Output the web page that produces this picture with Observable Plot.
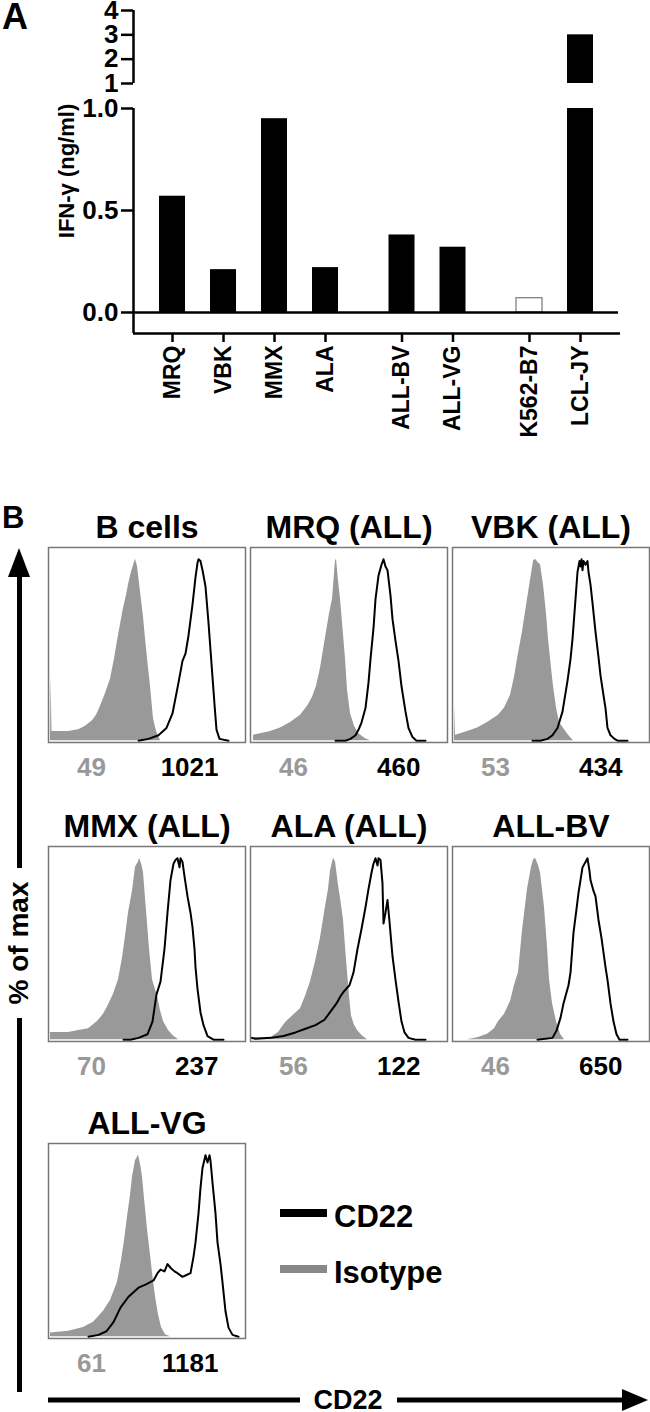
<!DOCTYPE html>
<html><head><meta charset="utf-8">
<script src="https://cdn.jsdelivr.net/npm/d3@7"></script>
<script src="https://cdn.jsdelivr.net/npm/@observablehq/plot@0.6"></script>
<style>
body{margin:0;background:#fff;}
#fig{position:relative;width:650px;height:1412px;overflow:hidden;font-family:"Liberation Sans",Arial,sans-serif;}
#fig > svg{position:absolute;}
</style></head><body><div id="fig"></div>
<script>
// ---------- Panel A data ----------
const cellLines = ["MRQ","VBK","MMX","ALA","ALL-BV","ALL-VG","K562-B7","LCL-JY"];
const cellGroup = [0,0,0,0,1,1,2,2];
const ifnGamma  = [0.57,0.21,0.95,0.22,0.38,0.32,0.07,3.0];
const isNegCtrl = [false,false,false,false,false,false,true,false];
const lowerTicks = [0,0.5,1];
const upperTicks = [1,2,3,4];

// ---------- Panel B data ----------
const panelTitles = ["B cells","MRQ (ALL)","VBK (ALL)","MMX (ALL)","ALA (ALL)","ALL-BV","ALL-VG"];
const isoMFI  = [49,46,53,70,56,46,61];
const cd22MFI = [1021,460,434,237,122,650,1181];
// histograms: [channel, % of max]
const isoBcells = [[0,0],[2,0],[2.5,36],[3.5,5],[20,5],[30,6],[37,8],[44,11],[48,14],[52,19],[57,26],[62,34],[66,45],[69,55],[72,64],[75,73],[78,80],[80,86],[83,93],[87,100],[89,96],[92,82],[95,68],[97,56],[100,40],[102,30],[105,12],[108,5],[112,0],[197,0]];
const cdBcells  = [[90,0],[100,1],[110,3],[118,7],[124,15],[130,32],[134,44],[137,48],[140,58],[144,75],[147,90],[149,98],[150,100],[152,99],[154,94],[157,85],[160,65],[162,50],[164,35],[166,20],[168,6],[171,1],[180,0]];
const isoMRQ = [[0,0],[3,0],[3,3],[20,5],[30,7],[40,10],[50,14],[57,19],[62,24],[66,30],[70,40],[73,50],[76,60],[79,70],[82,78],[84,92],[85,99],[86,100],[88,88],[90,78],[92,65],[95,45],[97,28],[100,15],[104,8],[108,4],[115,1],[120,0],[197,0]];
const cdMRQ  = [[85,0],[95,0],[100,1],[105,3],[108,6],[111,10],[115,18],[118,32],[120,45],[123,62],[125,78],[128,91],[130,95],[131,97],[133,100],[135,96],[137,94],[140,80],[142,67],[145,55],[148,44],[151,30],[155,16],[158,7],[162,2],[166,0],[175,0]];
const isoVBK = [[0,0],[2,0],[2.5,19],[3,3],[15,5],[25,7],[35,10],[46,14],[52,18],[58,25],[62,35],[65,45],[70,60],[75,78],[79,92],[81,99],[83,100],[86,98],[88,97],[91,86],[94,70],[96,56],[99,40],[101,30],[104,18],[107,10],[112,6],[116,3],[121,0],[197,0]];
const cdVBK  = [[80,0],[88,0],[95,1],[100,3],[105,7],[110,16],[115,33],[118,45],[120,56],[123,78],[125,93],[127,99],[128,96],[129,100],[130,94],[131,99],[133,97],[135,99],[136,93],[138,86],[140,76],[143,60],[146,46],[148,36],[151,25],[153,18],[155,7],[158,3],[162,1],[165,0],[175,0]];
const isoMMX = [[0,0],[2,0],[2,4],[10,4],[20,4],[30,5],[40,6],[49,10],[55,14],[59,18],[65,25],[70,33],[74,45],[77,57],[80,70],[84,82],[87,95],[90,98],[91,100],[93,97],[95,92],[97,78],[99,64],[101,50],[104,33],[109,24],[112,16],[115,10],[120,5],[125,2],[130,0],[197,0]];
const cdMMX  = [[75,0],[82,0],[90,1],[99,3],[104,10],[108,25],[112,32],[116,50],[119,70],[122,88],[125,97],[127,99],[129,100],[131,95],[132,100],[134,98],[136,90],[139,79],[142,70],[144,62],[146,50],[147,40],[149,28],[152,15],[155,8],[159,2],[165,0],[175,0]];
const isoALA = [[0,0],[2,0],[2,1],[20,1],[28,4],[33,8],[36,10],[42,13],[50,17],[55,24],[60,32],[65,43],[70,56],[74,70],[78,83],[80,93],[83,100],[85,98],[88,85],[90,78],[93,66],[95,51],[97,37],[99,24],[101,13],[104,8],[107,5],[112,2],[117,0],[197,0]];
const cdALA  = [[1,1],[5,0.5],[20,1],[33,2],[45,4],[55,6],[65,8],[74,11],[82,17],[86,20],[90,24],[94,27],[99,30],[103,37],[107,50],[111,61],[115,73],[118,83],[121,92],[123,97],[125,100],[127,96],[128,100],[130,99],[132,86],[133,64],[135,70],[137,77],[139,65],[142,46],[145,33],[148,21],[151,10],[154,4],[158,1],[165,0],[175,0]];
const isoBV  = [[0,0],[15,0],[25,1],[35,3],[42,6],[46,10],[52,14],[58,21],[62,30],[66,37],[70,60],[75,83],[79,95],[81,99],[83,100],[86,96],[88,92],[92,73],[95,51],[97,33],[100,20],[104,10],[108,3],[112,0],[197,0]];
const cdBV   = [[85,0],[100,1],[104,5],[108,12],[111,20],[114,26],[116,30],[118,37],[121,59],[124,72],[126,81],[128,88],[130,95],[133,98],[135,100],[137,93],[138,88],[141,82],[143,79],[146,66],[149,56],[151,48],[153,40],[155,33],[158,20],[161,10],[164,3],[167,0],[175,0]];
const isoVG  = [[0,0],[2,0],[2,2],[20,3],[35,5],[45,8],[55,14],[62,20],[69,30],[73,42],[76,53],[79,66],[82,78],[84,88],[87,97],[90,100],[92,95],[94,88],[96,76],[99,59],[102,45],[104,35],[107,22],[110,12],[113,5],[117,1],[122,0],[197,0]];
const cdVG   = [[40,0],[50,1],[58,3],[65,8],[72,16],[80,22],[90,27],[98,29],[105,31],[109,35],[112,37],[116,36],[119,40],[122,38],[126,36],[129,35],[134,33],[138,34],[142,35],[145,44],[147,52],[150,68],[152,82],[154,93],[157,100],[159,96],[161,100],[162,97],[164,85],[167,68],[169,52],[172,40],[174,30],[177,14],[180,5],[184,1],[190,0]];
const isoCurves = [isoBcells,isoMRQ,isoVBK,isoMMX,isoALA,isoBV,isoVG];
const cdCurves  = [cdBcells,cdMRQ,cdVBK,cdMMX,cdALA,cdBV,cdVG];

// ---------- layout ----------
const FONT = "Liberation Sans, Arial, sans-serif";
const fig = document.getElementById("fig");
function place(el, left, top){ el.style.position="absolute"; el.style.left=left+"px"; el.style.top=top+"px"; fig.appendChild(el); }

const bars = cellLines.map((name,i)=>({name, pos: i + 0.5*cellGroup[i], v: ifnGamma[i], ctrl: isNegCtrl[i]}));
const xDom = [-0.765, 8.745];
const plotL = 133, plotR = 618;
const pxPerX = (plotR - plotL) / (xDom[1] - xDom[0]);
const halfW = 13 / pxPerX;           // half bar width
const yTickLen = 12 / pxPerX;        // y tick length in x units
const xMin = xDom[0], xMax = xDom[1];

// upper (broken) segment 1-4
const upperH = 92, upperTop = 10, upperBot = 9;
const upper = Plot.plot({
  width: 650, height: upperH, marginLeft: plotL, marginRight: 650 - plotR, marginTop: upperTop, marginBottom: upperBot,
  style: {fontFamily: FONT, background: "transparent", overflow: "visible"},
  x: {domain: xDom, axis: null},
  y: {domain: [1,4], axis: null},
  marks: [
    Plot.rectY(bars.filter(d=>d.v>1), {x1: d=>d.pos-halfW, x2: d=>d.pos+halfW, y1: 1, y2: d=>d.v, fill: "black"}),
    Plot.ruleX([xMin], {y1: 1, y2: 4, strokeWidth: 2.5}),
    Plot.ruleY(upperTicks, {x1: xMin - yTickLen, x2: xMin, strokeWidth: 2.5}),
    Plot.text(upperTicks, {x: xMin, y: d=>d, text: d=>String(d), textAnchor: "end", dx: -15, fontSize: 26, fontWeight: "bold", fill: "#000"})
  ]
});
place(upper, 0, 0);

// lower segment 0-1 with x axis
const yAxisDrop = -0.103;
const lowerH = 360, lowerTop = 16, lowerBot = 119;
const pxPerY = (lowerH - lowerTop - lowerBot) / (1 - yAxisDrop);
const xTickLen = 9 / pxPerY;
const lower = Plot.plot({
  width: 650, height: lowerH, marginLeft: plotL, marginRight: 650 - plotR, marginTop: lowerTop, marginBottom: lowerBot,
  style: {fontFamily: FONT, background: "transparent", overflow: "visible"},
  x: {domain: xDom, axis: null},
  y: {domain: [yAxisDrop, 1], axis: null},
  marks: [
    Plot.rectY(bars.filter(d=>!d.ctrl), {x1: d=>d.pos-halfW, x2: d=>d.pos+halfW, y1: 0, y2: d=>Math.min(d.v,1), fill: "black"}),
    Plot.rectY(bars.filter(d=>d.ctrl), {x1: d=>d.pos-halfW, x2: d=>d.pos+halfW, y1: 0, y2: d=>d.v, fill: "white", stroke: "#777", strokeWidth: 1.2}),
    Plot.ruleY([0], {x1: xMin, x2: xMax, strokeWidth: 2.5}),
    Plot.ruleY([yAxisDrop], {x1: xMin, x2: xMax + 0.04, strokeWidth: 2.5}),
    Plot.ruleX([xMin], {y1: yAxisDrop, y2: 1, strokeWidth: 2.5}),
    Plot.ruleY(lowerTicks, {x1: xMin - yTickLen, x2: xMin, strokeWidth: 2.5}),
    Plot.text(lowerTicks, {x: xMin, y: d=>d, text: d3.format(".1f"), textAnchor: "end", dx: -15, fontSize: 26, fontWeight: "bold", fill: "#000"}),
    Plot.ruleX(bars, {x: "pos", y1: yAxisDrop, y2: yAxisDrop - xTickLen, strokeWidth: 2.5}),
    Plot.text(bars, {x: "pos", y: yAxisDrop, text: "name", rotate: -90, textAnchor: "end", dy: 12, fontSize: 23, fontWeight: "bold", fill: "#000"})
  ]
});
place(lower, 0, upperH);

// Panel B histograms
const colX = [48, 250, 452];
const rowTop = [547, 846, 1143];
const boxW = 197, boxH = 195, mT = 40, mB = 40;
panelTitles.forEach((title, i) => {
  const c = i % 3, r = Math.floor(i / 3);
  const p = Plot.plot({
    width: boxW, height: boxH + mT + mB, marginLeft: 0, marginRight: 0, marginTop: mT, marginBottom: mB,
    style: {fontFamily: FONT, background: "transparent", overflow: "visible"},
    x: {domain: [0, 197], axis: null},
    y: {domain: [-1, 106.5], axis: null},
    marks: [
      Plot.areaY(isoCurves[i], {x: d=>d[0], y: d=>d[1], fill: "#999"}),
      Plot.lineY(cdCurves[i], {x: d=>d[0], y: d=>d[1], stroke: "#000", strokeWidth: 2}),
      Plot.frame({stroke: "#777", strokeWidth: 1.5}),
      Plot.text([title], {text: d=>d, frameAnchor: "top", lineAnchor: "bottom", dy: -10, fontSize: 32, fontWeight: "bold", fill: "#000"}),
      Plot.text([isoMFI[i]], {text: d=>String(d), frameAnchor: "bottom-left", textAnchor: "middle", lineAnchor: "bottom", dx: 43, dy: 33, fontSize: 26, fontWeight: "bold", fill: "#999"}),
      Plot.text([cd22MFI[i]], {text: d=>String(d), frameAnchor: "bottom-left", textAnchor: "end", lineAnchor: "bottom", dx: 170, dy: 33, fontSize: 26, fontWeight: "bold", fill: "#000"})
    ]
  });
  place(p, colX[c], rowTop[r] - mT);
});

// decorations: panel letters, axis labels, arrows, legend
const ns = "http://www.w3.org/2000/svg";
const deco = document.createElementNS(ns, "svg");
deco.setAttribute("width", 650); deco.setAttribute("height", 1412);
deco.style.position = "absolute"; deco.style.left = "0px"; deco.style.top = "0px";
deco.style.fontFamily = FONT; deco.style.fontWeight = "bold";
deco.innerHTML = `
  <text x="2" y="29" font-size="36">A</text>
  <text x="2" y="528" font-size="31">B</text>
  <text transform="translate(74,171) rotate(-90)" text-anchor="middle" font-size="22">IFN-γ (ng/ml)</text>
  <polygon points="19,548 8,577 30,577" fill="#000"/>
  <line x1="19.5" y1="575" x2="19.5" y2="868" stroke="#000" stroke-width="5"/>
  <text transform="translate(28,943) rotate(-90)" text-anchor="middle" font-size="28">% of max</text>
  <line x1="19.5" y1="1018" x2="19.5" y2="1392" stroke="#000" stroke-width="5"/>
  <line x1="48" y1="1400" x2="300" y2="1400" stroke="#000" stroke-width="5"/>
  <text x="348" y="1409" text-anchor="middle" font-size="27">CD22</text>
  <line x1="397" y1="1400" x2="626" y2="1400" stroke="#000" stroke-width="5"/>
  <polygon points="622,1389 648,1400 622,1411" fill="#000"/>
  <line x1="280" y1="1213" x2="327" y2="1213" stroke="#000" stroke-width="8"/>
  <line x1="280" y1="1269" x2="327" y2="1269" stroke="#888" stroke-width="8"/>
  <text x="334" y="1227" font-size="31">CD22</text>
  <text x="334" y="1283" font-size="31">Isotype</text>
`;
fig.appendChild(deco);
</script></body></html>
